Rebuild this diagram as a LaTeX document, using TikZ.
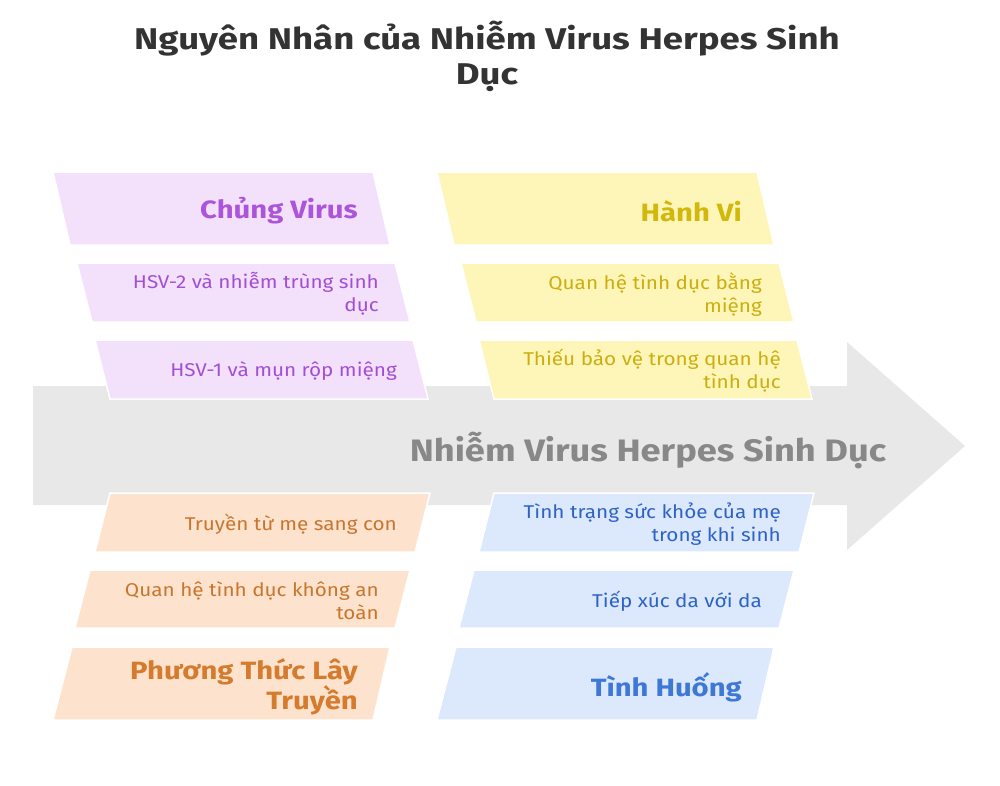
\documentclass[tikz,border=0pt]{standalone}
\usepackage{fontspec}
\setmainfont{Fira Sans}
\newfontfamily\itemf[FakeStretch=1.12]{Fira Sans}
\newfontfamily\headf[FakeStretch=1.17]{Fira Sans}
\newfontfamily\titf[FakeStretch=1.22]{Fira Sans}
\definecolor{purF}{HTML}{F3E1FB}
\definecolor{purT}{HTML}{A24FD3}
\definecolor{purH}{HTML}{AC55DA}
\definecolor{yelF}{HTML}{FEF6B9}
\definecolor{yelT}{HTML}{CBAE10}
\definecolor{yelH}{HTML}{D2B80C}
\definecolor{oraF}{HTML}{FDE3CD}
\definecolor{oraT}{HTML}{C8762E}
\definecolor{oraH}{HTML}{D47B2E}
\definecolor{bluF}{HTML}{DCE8FC}
\definecolor{bluT}{HTML}{2E63C6}
\definecolor{bluH}{HTML}{3E78D6}
\definecolor{arrF}{HTML}{E8E8E8}
\definecolor{arrT}{HTML}{888888}
\definecolor{titT}{HTML}{333333}
\tikzset{
  pbox/.style={draw=white, line width=1.5pt, line join=miter},
  itemtxt/.style={anchor=east, inner sep=0pt, align=right, font=\itemf\fontsize{18.5}{23}\selectfont},
  headtxt/.style={anchor=east, inner sep=0pt, align=right, font=\headf\fontsize{25}{30}\selectfont\bfseries},
}
\begin{document}
\begin{tikzpicture}[x=1pt,y=-1pt]
\useasboundingbox (0,0) rectangle (1000,785);
\fill[white] (0,0) rectangle (1000,785);
% title
\node[font=\titf\fontsize{30}{35}\selectfont\bfseries, text=titT, align=center, inner sep=0pt] (title) at (487,56) {Nguyên Nhân của Nhiễm Virus Herpes Sinh\\Dục};
% main arrow
\fill[arrF] (33,386) -- (847,386) -- (847,342) -- (965,446) -- (847,550) -- (847,505) -- (33,505) -- cycle;
\node[font=\headf\fontsize{31}{36}\selectfont\bfseries, text=arrT, inner sep=0pt] (effect) at (648,450) {Nhiễm Virus Herpes Sinh Dục};
% left top: purple
\path[pbox, fill=purF] (53,172) -- (373,172) -- (390,245) -- (70,245) -- cycle;
\path[pbox, fill=purF] (77,263) -- (395,263) -- (410,322) -- (92,322) -- cycle;
\path[pbox, fill=purF] (95,340) -- (413,340) -- (428,399) -- (110,399) -- cycle;
\node[headtxt, text=purH] (chung) at (358,211) {Chủng Virus};
\node[itemtxt, text=purT] (hsv2) at (379,294) {HSV-2 và nhiễm trùng sinh\\dục};
\node[itemtxt, text=purT] (hsv1) at (397,371) {HSV-1 và mụn rộp miệng};
% right top: yellow
\path[pbox, fill=yelF] (437,172) -- (757,172) -- (774,245) -- (454,245) -- cycle;
\path[pbox, fill=yelF] (461,263) -- (779,263) -- (794,322) -- (476,322) -- cycle;
\path[pbox, fill=yelF] (479,340) -- (797,340) -- (812,399) -- (494,399) -- cycle;
\node[headtxt, text=yelH] (hanhvi) at (742,211) {Hành Vi};
\node[itemtxt, text=yelT] (mieng) at (762,295) {Quan hệ tình dục bằng\\miệng};
\node[itemtxt, text=yelT] (thieu) at (781,371) {Thiếu bảo vệ trong quan hệ\\tình dục};
% left bottom: orange
\path[pbox, fill=oraF] (110,493) -- (430,493) -- (415,552) -- (95,552) -- cycle;
\path[pbox, fill=oraF] (90,570) -- (410,570) -- (395,628) -- (75,628) -- cycle;
\path[pbox, fill=oraF] (72,647) -- (390,647) -- (373,720) -- (53,720) -- cycle;
\node[itemtxt, text=oraT] (me) at (397,524) {Truyền từ mẹ sang con};
\node[itemtxt, text=oraT] (khongan) at (379,601) {Quan hệ tình dục không an\\toàn};
\node[headtxt, text=oraH] (phuongthuc) at (358,687) {Phương Thức Lây\\Truyền};
% right bottom: blue
\path[pbox, fill=bluF] (494,493) -- (814,493) -- (799,552) -- (479,552) -- cycle;
\path[pbox, fill=bluF] (474,570) -- (794,570) -- (779,628) -- (459,628) -- cycle;
\path[pbox, fill=bluF] (456,647) -- (774,647) -- (757,720) -- (437,720) -- cycle;
\node[itemtxt, text=bluT] (tinhtrang) at (781,524) {Tình trạng sức khỏe của mẹ\\trong khi sinh};
\node[itemtxt, text=bluT] (tiepxuc) at (762,601) {Tiếp xúc da với da};
\node[headtxt, text=bluH] (tinhhuong) at (742,687) {Tình Huống};
\end{tikzpicture}
\end{document}
